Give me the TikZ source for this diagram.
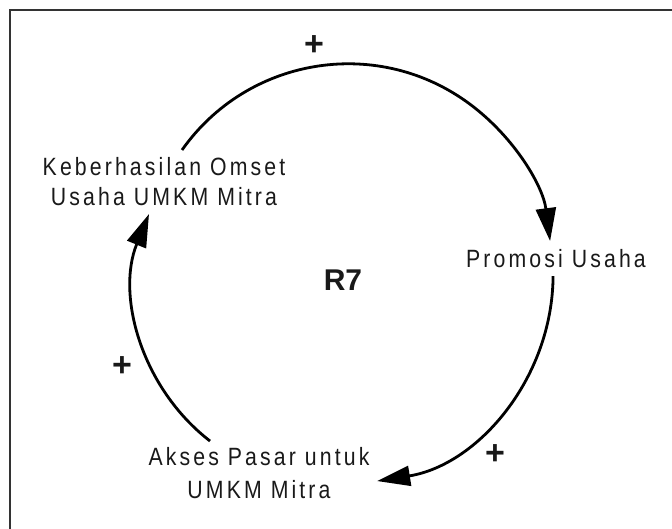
\documentclass[tikz,border=0pt]{standalone}
\usepackage{fontspec}
\setmainfont{Liberation Sans}
\newfontfamily\labelfont[LetterSpace=12.5,FakeStretch=0.85]{Liberation Sans}
\usetikzlibrary{arrows.meta,calc}
\begin{document}
\begin{tikzpicture}[x=1pt,y=1pt,
  varlabel/.style={font=\labelfont\fontsize{25}{30}\selectfont, text=black!90, align=center, inner sep=0pt},
  looplabel/.style={font=\bfseries\fontsize{30}{30}\selectfont, text=black!90, inner sep=0pt},
  polarity/.style={font=\bfseries\fontsize{34}{34}\selectfont, text=black!90, inner sep=0pt},
  link/.style={line width=2.8pt, -{Triangle[length=33pt,width=20pt]}},
  framebox/.style={draw=black!80, line width=1.6pt}]
\useasboundingbox (0,0) rectangle (672,528);
\clip (0,0) rectangle (672,528);

% outer frame (left and top edges)
\draw[framebox] (10,-20) |- (700,518);

% variables (base anchor sits on the last line)
\node[varlabel, anchor=base] (k) at (164,322.3) {Keberhasilan Omset\\Usaha UMKM Mitra};
\node[varlabel, anchor=base] (p) at (556,260.3) {Promosi Usaha};
\node[varlabel, anchor=base] (a) at (259,29.7) {Akses Pasar untuk\\[3pt]UMKM Mitra};

% loop marker
\node[looplabel] (r7) at (343,248) {R7};

% polarities
\node[polarity] (s1) at (314,482) {+};
\node[polarity] (s2) at (122,161) {+};
\node[polarity] (s3) at (495,73) {+};

% arc centres
\coordinate (ctop) at (348.3,260.7);
\coordinate (cright) at (344.1,253.3);
\coordinate (cleft) at (328.8,240.6);

% arc end points
\coordinate (k-out) at ($(ctop)+(144.8:203.5)$);
\coordinate (p-in) at ($(ctop)+(7.4:203.5)$);
\coordinate (p-out) at ($(cright)+(-0.4:209)$);
\coordinate (a-in) at ($(cright)+(-80.9:209)$);
\coordinate (a-out) at ($(cleft)+(232.3:194.2)$);
\coordinate (k-in) at ($(cleft)+(157.8:194.2)$);

% causal links
\draw[link] (k-out) arc[start angle=144.8, end angle=7.4, radius=203.5];
\draw[link] (p-out) arc[start angle=-0.4, end angle=-80.9, radius=209];
\draw[link] (a-out) arc[start angle=232.3, end angle=157.8, radius=194.2];
\end{tikzpicture}
\end{document}
